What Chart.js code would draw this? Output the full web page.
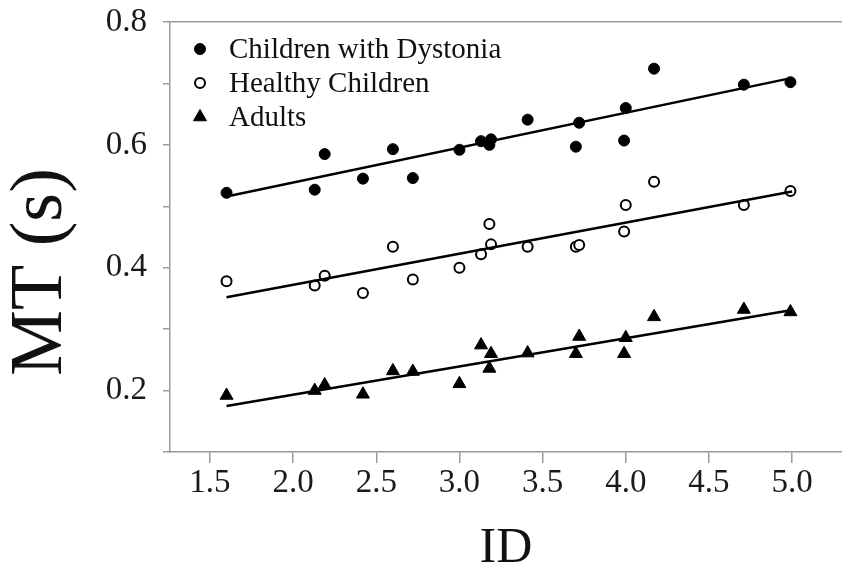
<!DOCTYPE html>
<html>
<head>
<meta charset="utf-8">
<title>MT vs ID</title>
<script src="https://cdn.jsdelivr.net/npm/chart.js@4"></script>
<style>
  body { margin: 0; background: #fff; }
  #wrap { width: 842px; height: 574px; }
</style>
</head>
<body>
<div id="wrap"><canvas id="myChart" width="842" height="574"></canvas></div>
<script>
// index of difficulty for each condition (shared by all groups)
const idValues = [1.6, 2.13, 2.19, 2.42, 2.6, 2.72, 3.0, 3.13, 3.18, 3.19, 3.41, 3.7, 3.72, 3.99, 4.0, 4.17, 4.71, 4.99];

// movement time (s)
const dystonia = [0.522, 0.527, 0.585, 0.545, 0.593, 0.546, 0.592, 0.606, 0.600, 0.609, 0.641, 0.597, 0.636, 0.607, 0.660, 0.724, 0.698, 0.702];
const healthy  = [0.378, 0.371, 0.387, 0.359, 0.434, 0.381, 0.400, 0.422, 0.471, 0.438, 0.434, 0.434, 0.437, 0.459, 0.502, 0.540, 0.502, 0.525];
const adults   = [0.192, 0.200, 0.209, 0.194, 0.232, 0.231, 0.211, 0.274, 0.236, 0.260, 0.261, 0.260, 0.288, 0.260, 0.286, 0.320, 0.332, 0.328];

// fitted lines, end points
const fitX = [1.6, 5.0];
const fitDystonia = [0.516, 0.709];
const fitHealthy  = [0.352, 0.524];
const fitAdults   = [0.175, 0.331];

const groupLabels = ['Children with Dystonia', 'Healthy Children', 'Adults'];
const yTickLabels = [0.2, 0.4, 0.6, 0.8];

const serif = '"Liberation Serif", "Times New Roman", serif';
const axisGray = '#9a9a9a';

function pts(xs, ys) {
  return xs.map((x, i) => ({x: x, y: ys[i]}));
}

// legend drawn inside the plot, top-left
const insideLegend = {
  id: 'insideLegend',
  afterDraw(chart) {
    const ctx = chart.ctx;
    const area = chart.chartArea;
    ctx.save();
    chart.data.datasets.filter(d => !d.showLine).forEach((d, i) => {
      const x = area.left + 30;
      const y = area.top + 27 + i * 34;
      ctx.fillStyle = d.backgroundColor;
      ctx.strokeStyle = d.borderColor;
      ctx.lineWidth = d.borderWidth;
      ctx.beginPath();
      if (d.pointStyle === 'triangle') {
        const r = d.pointRadius;
        for (let k = 0; k < 3; k++) {
          const a = k * 2 * Math.PI / 3;
          const px = x + Math.sin(a) * r, py = y - Math.cos(a) * r;
          if (k === 0) ctx.moveTo(px, py); else ctx.lineTo(px, py);
        }
        ctx.closePath();
      } else {
        ctx.arc(x, y, d.pointRadius, 0, Math.PI * 2);
      }
      ctx.fill();
      if (d.borderWidth) ctx.stroke();
      ctx.fillStyle = '#111';
      ctx.font = '29px ' + serif;
      ctx.textBaseline = 'middle';
      ctx.textAlign = 'left';
      ctx.fillText(d.label, x + 29, y + 1);
    });
    // y axis title, placed as in the figure
    ctx.translate(42, 272);
    ctx.rotate(-Math.PI / 2);
    ctx.font = '74px ' + serif;
    ctx.textAlign = 'center';
    ctx.textBaseline = 'middle';
    ctx.fillStyle = '#111';
    ctx.fillText('MT (s)', 0, 0);
    ctx.restore();
  }
};

const lineStyle = {
  showLine: true, pointRadius: 0, borderColor: '#000', borderWidth: 2.5, fill: false
};

new Chart(document.getElementById('myChart').getContext('2d'), {
  type: 'scatter',
  data: {
    datasets: [
      Object.assign({label: 'fit1', data: pts(fitX, fitDystonia)}, lineStyle),
      Object.assign({label: 'fit2', data: pts(fitX, fitHealthy)}, lineStyle),
      Object.assign({label: 'fit3', data: pts(fitX, fitAdults)}, lineStyle),
      {
        label: groupLabels[0], data: pts(idValues, dystonia),
        pointStyle: 'circle', pointRadius: 5.5, backgroundColor: '#000', borderColor: '#000', borderWidth: 1
      },
      {
        label: groupLabels[1], data: pts(idValues, healthy),
        pointStyle: 'circle', pointRadius: 5, backgroundColor: '#fff', borderColor: '#000', borderWidth: 2
      },
      {
        label: groupLabels[2], data: pts(idValues, adults),
        pointStyle: 'triangle', pointRadius: 7.5, backgroundColor: '#000', borderColor: '#000', borderWidth: 1
      }
    ]
  },
  options: {
    responsive: false,
    animation: false,
    layout: { autoPadding: false, padding: { top: 22, right: 0, bottom: 0, left: 0 } },
    plugins: { legend: { display: false }, tooltip: { enabled: false } },
    scales: {
      x: {
        type: 'linear',
        min: 1.26, max: 5.3,
        afterFit: s => { s.height = 122; s.paddingLeft = 0; s.paddingRight = 0; },
        border: { color: axisGray, width: 1.5 },
        grid: { drawOnChartArea: false, color: axisGray, tickLength: 11, lineWidth: 1.5 },
        ticks: {
          stepSize: 0.5, includeBounds: false, color: '#1a1a1a', padding: 1,
          font: { family: serif, size: 33 },
          callback: v => v.toFixed(1)
        },
        title: {
          display: true, text: 'ID', color: '#111',
          font: { family: serif, size: 50, lineHeight: 1 }, padding: { top: 0, bottom: 0 }
        }
      },
      y: {
        min: 0.1, max: 0.8,
        afterFit: s => { s.width = 170; s.paddingTop = 0; s.paddingBottom = 0; },
        border: { color: axisGray, width: 1.5 },
        grid: {
          drawOnChartArea: true, tickLength: 7, lineWidth: 1.5,
          color: c => (c.tick && Math.abs(c.tick.value - 0.8) < 1e-6) ? axisGray : 'rgba(0,0,0,0)',
          tickColor: axisGray
        },
        ticks: {
          stepSize: 0.1, color: '#1a1a1a', padding: 16,
          font: { family: serif, size: 33 },
          callback: v => yTickLabels.some(t => Math.abs(t - v) < 1e-6) ? v.toFixed(1) : ''
        }
      }
    }
  },
  plugins: [insideLegend]
});
</script>
</body>
</html>
